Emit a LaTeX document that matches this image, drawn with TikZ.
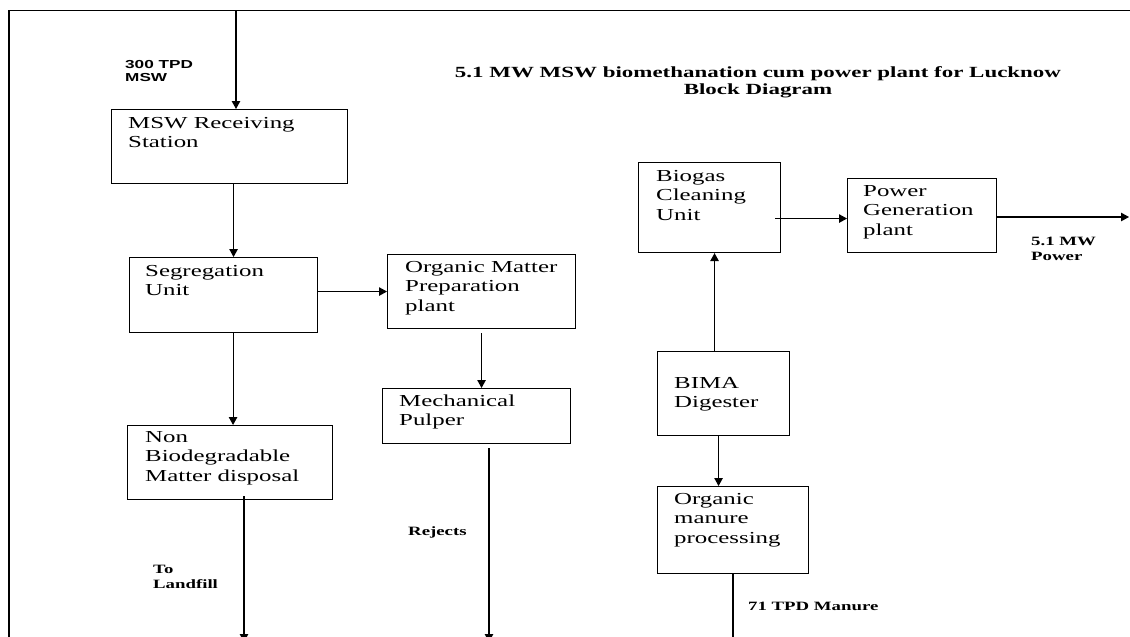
\documentclass[tikz,border=0pt]{standalone}
\usepackage{fontspec}
\setmainfont{Liberation Serif}[FakeStretch=1.48]
\newfontfamily\arialfont{Liberation Sans}[FakeStretch=1.48]
\usetikzlibrary{arrows.meta}
\begin{document}
\begin{tikzpicture}[x=1pt,y=-1pt,
  box/.style={draw, line width=1.1pt, inner sep=0pt, anchor=north west},
  boxtext/.style={anchor=north west, inner sep=0pt, align=left,
    font=\fontsize{16.8pt}{19.5pt}\selectfont},
  lbl/.style={inner sep=0pt, align=left,
    font=\bfseries\fontsize{12.7pt}{15pt}\selectfont},
  ttl/.style={inner sep=0pt, align=center,
    font=\bfseries\fontsize{15.5pt}{17.5pt}\selectfont},
  arr/.style={line width=1.1pt, -{Triangle[length=8pt,width=8.5pt]}},
  plain/.style={line width=1.1pt},
  frame/.style={line width=1.4pt}]
\useasboundingbox (0,0) rectangle (1130,637);
% frame
\coordinate (fl) at (9,10.5);
\coordinate (fr) at (1131,10.5);
\coordinate (fb) at (9,640);
\draw[frame] (fr) -- (fl) -- (fb);
% boxes
\node[box, minimum width=236pt, minimum height=74pt] (msw) at (111,109) {};
\node[box, minimum width=188pt, minimum height=75pt] (seg) at (129,257) {};
\node[box, minimum width=188pt, minimum height=74pt] (ompp) at (387,254) {};
\node[box, minimum width=188pt, minimum height=55pt] (mp) at (382,388) {};
\node[box, minimum width=205pt, minimum height=74pt] (nonbio) at (127,425) {};
\node[box, minimum width=142pt, minimum height=90pt] (biogas) at (638,162) {};
\node[box, minimum width=149pt, minimum height=74pt] (power) at (847,178) {};
\node[box, minimum width=132pt, minimum height=84pt] (bima) at (657,351) {};
\node[box, minimum width=151pt, minimum height=87pt] (manure) at (657,486) {};
% box texts
\node[boxtext] (mswt) at ([xshift=17pt,yshift=-6pt]msw.north west) {\rule{0pt}{13pt}MSW Receiving\\Station};
\node[boxtext] (segt) at ([xshift=16pt,yshift=-6pt]seg.north west) {\rule{0pt}{13pt}Segregation\\Unit};
\node[boxtext] (omppt) at ([xshift=18pt,yshift=-5pt]ompp.north west) {\rule{0pt}{13pt}Organic Matter\\Preparation\\plant};
\node[boxtext] (mpt) at ([xshift=17pt,yshift=-5pt]mp.north west) {\rule{0pt}{13pt}Mechanical\\Pulper};
\node[boxtext] (nonbiot) at ([xshift=18pt,yshift=-4pt]nonbio.north west) {\rule{0pt}{13pt}Non\\Biodegradable\\Matter disposal};
\node[boxtext] (biogast) at ([xshift=18pt,yshift=-6pt]biogas.north west) {\rule{0pt}{13pt}Biogas\\Cleaning\\Unit};
\node[boxtext] (powert) at ([xshift=16pt,yshift=-5pt]power.north west) {\rule{0pt}{13pt}Power\\Generation\\plant};
\node[boxtext] (bimat) at ([xshift=17pt,yshift=-24pt]bima.north west) {\rule{0pt}{13pt}BIMA\\Digester};
\node[boxtext] (manuret) at ([xshift=17pt,yshift=-5pt]manure.north west) {\rule{0pt}{13pt}Organic\\manure\\processing};
% labels
\node[anchor=north west, inner sep=0pt, align=left,
  font=\arialfont\bfseries\fontsize{11.6pt}{12.8pt}\selectfont] (l300) at (125,58.3) {\rule{0pt}{10pt}300 TPD\\MSW};
\node[ttl, anchor=north] (title) at (758,65) {\rule{0pt}{12pt}5.1 MW MSW biomethanation cum power plant for Lucknow\\Block Diagram};
\node[lbl, anchor=north west] (lpow) at (1031,235) {\rule{0pt}{10pt}5.1 MW\\Power};
\node[lbl, anchor=north west] (lland) at (153,563) {\rule{0pt}{10pt}To\\Landfill};
\node[lbl, anchor=base west] (lrej) at (408,535) {Rejects};
\node[lbl, anchor=base west] (lman) at (748,610) {71 TPD Manure};
% connectors
\coordinate (in) at (236,10.5);
\draw[arr] (in) -- (in |- msw.north);
\draw[arr] ([xshift=4pt]msw.south) -- ([xshift=4pt]msw.south |- seg.north);
\draw[arr] ([yshift=3.5pt]seg.east) -- ([yshift=3.5pt]seg.east -| ompp.west);
\draw[arr] ([xshift=9.5pt]seg.south) -- ([xshift=9.5pt]seg.south |- nonbio.north);
\draw[arr] ([yshift=-4pt]ompp.south) -- (ompp.south |- mp.north);
\coordinate (rej) at (489,642);
\draw[arr] ([yshift=-4pt]mp.south -| rej) -- (rej);
\coordinate (lf) at (244,642);
\draw[arr] ([yshift=4pt]nonbio.south -| lf) -- (lf);
\draw[arr] ([xshift=-6pt,yshift=-3pt]power.west -| biogas.east) -- ([yshift=-3pt]power.west);
\coordinate (pout) at (1129,217);
\draw[arr] (power.east |- pout) -- (pout);
\draw[arr] ([xshift=-9pt]bima.north) -- ([xshift=-9pt]bima.north |- biogas.south);
\draw[arr] ([xshift=-5pt]bima.south) -- ([xshift=-5pt]bima.south |- manure.north);
\coordinate (mo) at (733,645);
\draw[plain] (manure.south -| mo) -- (mo);
\end{tikzpicture}
\end{document}
